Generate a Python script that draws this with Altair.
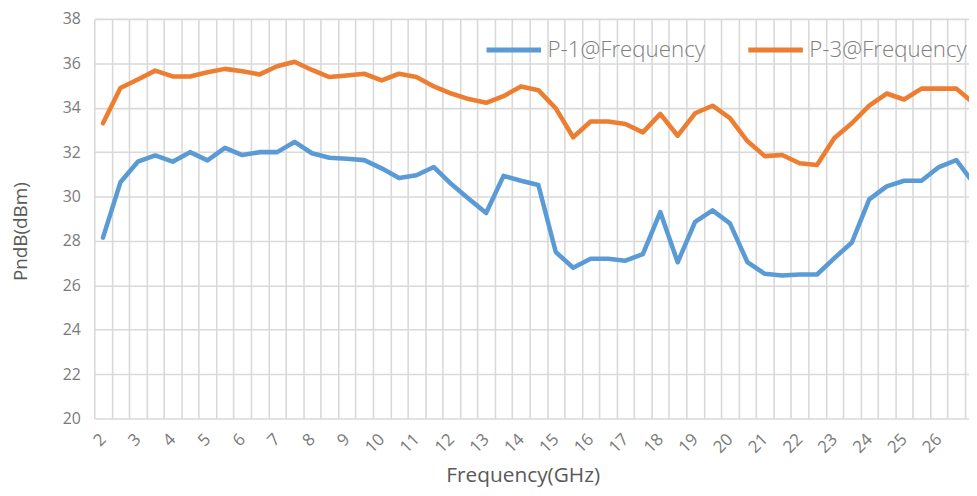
import altair as alt
import pandas as pd

freq = [2.0, 2.5, 3.0, 3.5, 4.0, 4.5, 5.0, 5.5, 6.0, 6.5, 7.0, 7.5, 8.0, 8.5, 9.0, 9.5,
        10.0, 10.5, 11.0, 11.5, 12.0, 12.5, 13.0, 13.5, 14.0, 14.5, 15.0, 15.5, 16.0, 16.5,
        17.0, 17.5, 18.0, 18.5, 19.0, 19.5, 20.0, 20.5, 21.0, 21.5, 22.0, 22.5, 23.0, 23.5,
        24.0, 24.5, 25.0, 25.5, 26.0, 26.5, 27.0]
p1 = [28.15, 30.64, 31.57, 31.85, 31.57, 32.0, 31.63, 32.19, 31.87, 32.0, 32.0, 32.46, 31.95,
      31.75, 31.70, 31.64, 31.27, 30.83, 30.96, 31.33, 30.56, 29.9, 29.26, 30.93, 30.71,
      30.52, 27.5, 26.79, 27.2, 27.2, 27.11, 27.41, 29.3, 27.04, 28.86, 29.38, 28.79, 27.05,
      26.52, 26.44, 26.49, 26.49, 27.23, 27.93, 29.87, 30.46, 30.71, 30.71, 31.33, 31.64, 30.6]
p3 = [33.30, 34.89, 35.27, 35.67, 35.41, 35.41, 35.6, 35.75, 35.64, 35.5, 35.87, 36.07, 35.7,
      35.38, 35.45, 35.53, 35.23, 35.53, 35.38, 34.96, 34.64, 34.39, 34.22, 34.52, 34.96,
      34.79, 33.97, 32.67, 33.38, 33.38, 33.27, 32.89, 33.72, 32.74, 33.75, 34.09, 33.53, 32.5,
      31.82, 31.87, 31.5, 31.42, 32.64, 33.3, 34.09, 34.64, 34.37, 34.86, 34.86, 34.86, 34.2]
series = ["P-1@Frequency", "P-3@Frequency"]
colors = ["#5B9BD5", "#ED7D31"]
y_ticks = [20, 22, 24, 26, 28, 30, 32, 34, 36, 38]
x_labels = [2, 3, 4, 5, 6, 7, 8, 9, 10, 11, 12, 13, 14, 15, 16, 17, 18, 19, 20, 21, 22, 23,
            24, 25, 26, 27]

half = 0.25
bounds = [f - half for f in freq] + [freq[-1] + half]

rows = []
for f, a, b in zip(freq, p1, p3):
    rows.append({"freq": f, "series": series[0], "value": a})
    rows.append({"freq": f, "series": series[1], "value": b})
df = pd.DataFrame(rows)

plot_w = 882
px_per_ghz = 35.12
x_max = bounds[0] + plot_w / px_per_ghz

xscale = alt.Scale(domain=[bounds[0], x_max], nice=False, zero=False)
yscale = alt.Scale(domain=[20, 38], nice=False, zero=False)

grid_layer = alt.Chart(pd.DataFrame({"b": bounds})).mark_rule(opacity=0, clip=True).encode(
    x=alt.X("b:Q", scale=xscale,
            axis=alt.Axis(orient="top", values=bounds, grid=True, labels=False,
                          ticks=False, domain=False, title=None,
                          gridColor="#d9d9d9", gridWidth=1.6))
)

lines = alt.Chart(df).mark_line(strokeWidth=4.6, strokeCap="round", strokeJoin="round",
                                clip=True).encode(
    x=alt.X("freq:Q", scale=xscale,
            axis=alt.Axis(orient="bottom", values=x_labels, grid=False, ticks=False,
                          domain=False, labelAngle=-45, labelAlign="right",
                          labelBaseline="middle", labelPadding=18, labelFontSize=17,
                          labelColor="#7a7a7a", labelFont="Open Sans",
                          labelOverlap=False, labelBound=False, labelFlush=False,
                          title="Frequency(GHz)", titleFontSize=21, titleFont="Open Sans",
                          titleFontWeight="normal", titleColor="#595959",
                          titleX=432, titleY=63, titleBaseline="alphabetic",
                          titleAlign="center")),
    y=alt.Y("value:Q", scale=yscale,
            axis=alt.Axis(values=y_ticks, grid=True, gridColor="#d9d9d9", gridWidth=1.6,
                          ticks=False, domain=False, labelPadding=14, labelFontSize=16,
                          labelColor="#7a7a7a", labelFont="Open Sans",
                          title="PndB(dBm)", titleFontSize=19, titleFont="Open Sans",
                          titleFontWeight="normal", titleColor="#595959",
                          titleAngle=-90, titleX=-74, titleY=214, titleAlign="center",
                          titleBaseline="middle")),
    color=alt.Color("series:N", scale=alt.Scale(domain=series, range=colors),
                    legend=alt.Legend(title=None, orient="none", direction="horizontal",
                                      legendX=393, legendY=1, symbolType="stroke",
                                      symbolSize=3025, symbolStrokeWidth=5,
                                      labelFontSize=22.5, labelFont="Open Sans",
                                      labelFontWeight=300, labelColor="#808080",
                                      labelLimit=400, labelOffset=4, columnPadding=33,
                                      padding=0)),
)

chart = alt.layer(grid_layer, lines).resolve_axis(x="independent").properties(
    width=plot_w, height=403,
    autosize=alt.AutoSizeParams(type="none"),
    padding={"left": 87, "top": 9, "right": 0, "bottom": 68},
).configure_view(stroke=None)

chart.save("out.html", embed_options={"renderer": "svg", "actions": False})
